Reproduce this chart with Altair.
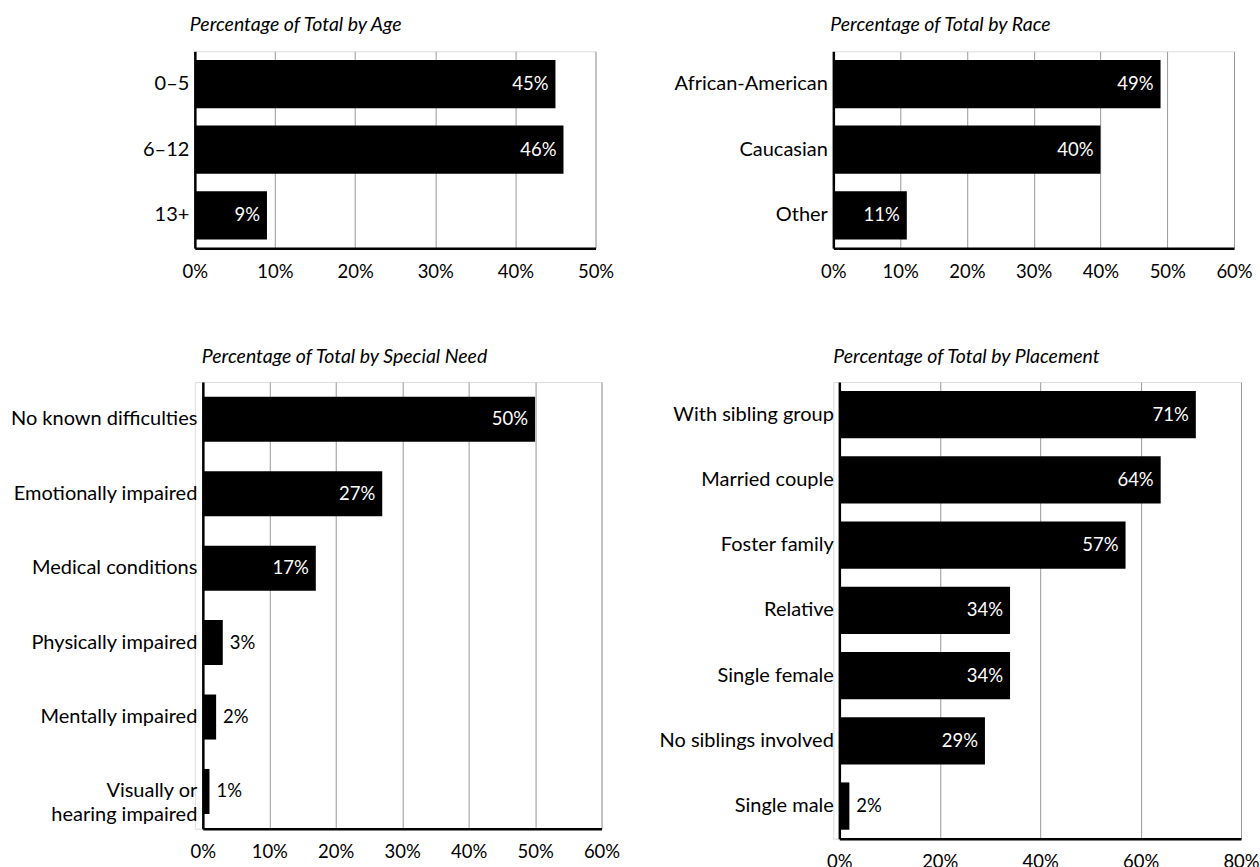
import altair as alt
import pandas as pd

age_cats = ["0–5", "6–12", "13+"]
age_vals = [45, 46, 9]

race_cats = ["African-American", "Caucasian", "Other"]
race_vals = [49, 40, 11]

need_cats = ["No known difficulties", "Emotionally impaired", "Medical conditions",
             "Physically impaired", "Mentally impaired", "Visually or hearing impaired"]
need_vals = [50, 27, 17, 3, 2, 1]

place_cats = ["With sibling group", "Married couple", "Foster family", "Relative",
              "Single female", "No siblings involved", "Single male"]
place_vals = [71, 64, 57, 34, 34, 29, 2]

FONT = "Lato"
YLABEL_SIZE = 20
NUM_SIZE = 18.5
TITLE_SIZE = 19.5


def panel(cats, vals, title, xmax, tick_step, width, height, pad_inner, title_dx,
          shift=0, anchor=False, title_offset=16):
    df = pd.DataFrame({"cat": cats, "val": vals})
    df["label"] = [f"{v}%" for v in vals]
    y_enc = alt.Y(
        "cat:N", sort=cats,
        scale=alt.Scale(paddingInner=pad_inner, paddingOuter=pad_inner / 2),
        axis=alt.Axis(title=None, domain=True, domainColor="black", domainWidth=2.5,
                      ticks=False, grid=False, labelFont=FONT, labelFontSize=YLABEL_SIZE,
                      labelColor="black", labelPadding=6, offset=-shift,
                      labelLineHeight=24, labelLimit=400,
                      labelExpr="datum.label == 'Visually or hearing impaired' ? ['Visually or', 'hearing impaired'] : datum.label"),
    )
    x_enc = alt.X(
        "val:Q",
        scale=alt.Scale(domain=[0, xmax], range=[shift, width], nice=False),
        axis=alt.Axis(title=None, values=list(range(0, xmax + 1, tick_step)),
                      labelExpr="datum.value + '%'", grid=True, gridColor="#999999",
                      gridWidth=1, domainColor="black", domainWidth=2.5, ticks=False,
                      labelPadding=14, labelFont=FONT, labelFontSize=NUM_SIZE,
                      labelColor="black", labelFlush=False),
    )
    base = alt.Chart(df)
    bars = base.mark_bar(color="black").encode(x=x_enc, y=y_enc)
    t_in = base.mark_text(align="right", baseline="middle", dx=-7, color="white",
                          font=FONT, fontSize=NUM_SIZE).encode(
        x="val:Q", y=alt.Y("cat:N", sort=cats), text="label:N"
    ).transform_filter("datum.val >= 5")
    t_out = base.mark_text(align="left", baseline="middle", dx=7, color="black",
                           font=FONT, fontSize=NUM_SIZE).encode(
        x="val:Q", y=alt.Y("cat:N", sort=cats), text="label:N"
    ).transform_filter("datum.val < 5")
    layers = [bars, t_in, t_out]
    if anchor:
        rule = base.mark_rule(strokeOpacity=0, color="white").encode(
            x=alt.value(-194), x2=alt.value(-193), y=alt.value(0))
        layers.append(rule)
    return alt.layer(*layers).properties(
        width=width, height=height,
        title=alt.TitleParams(text=title, anchor="start", frame="group", font=FONT,
                              fontSize=TITLE_SIZE, fontStyle="italic",
                              fontWeight="normal", color="black",
                              dx=title_dx, offset=title_offset),
    )


p1 = panel(age_cats, age_vals, "Percentage of Total by Age", 50, 10, 401, 197, 0.265, -5,
           anchor=True)
p2 = panel(race_cats, race_vals, "Percentage of Total by Race", 60, 10, 401, 197, 0.265, -3)
p3 = panel(need_cats, need_vals, "Percentage of Total by Special Need", 60, 10, 407, 447,
           0.395, 7, shift=8, title_offset=15)
p4 = panel(place_cats, place_vals, "Percentage of Total by Placement", 80, 20, 408, 457,
           0.275, 0, shift=6, title_offset=15)

chart = alt.concat(
    p1, p2, p3, p4, columns=2, spacing={"row": 134, "column": 232},
    bounds="flush", align="each",
).properties(
    padding={"left": 0, "top": 14, "right": 0, "bottom": 0}
).configure_view(strokeWidth=0).configure(font=FONT)

chart.save("out.html", embed_options={"renderer": "svg", "actions": False})
